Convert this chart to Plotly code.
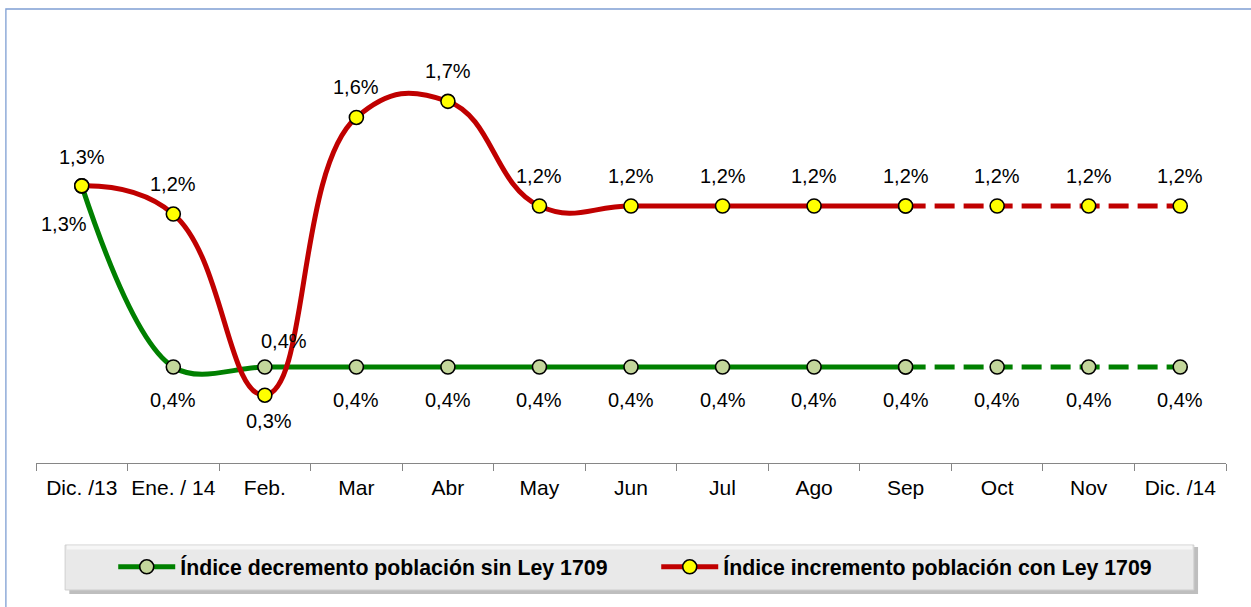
import plotly.graph_objects as go

# ---- data ----
categories = ["Dic. /13", "Ene. / 14", "Feb.", "Mar", "Abr", "May", "Jun",
              "Jul", "Ago", "Sep", "Oct", "Nov", "Dic. /14"]
sin_ley = [1.30, 0.40, 0.40, 0.40, 0.40, 0.40, 0.40, 0.40, 0.40, 0.40, 0.40, 0.40, 0.40]
con_ley = [1.30, 1.16, 0.26, 1.64, 1.72, 1.20, 1.20, 1.20, 1.20, 1.20, 1.20, 1.20, 1.20]
name_sin = "Índice decremento población sin Ley 1709"
name_con = "Índice incremento población con Ley 1709"
last_actual = 9  # Sep: after this point the series is projected (dashed)

# label offsets in pixels (xshift, yshift)
sin_label_pos = [(-18, -38), (0, -33), (19, 26)] + [(0, -33)] * 10
con_label_pos = [(0, 29), (0, 30), (4, -26)] + [(0, 30)] * 10

GREEN = "#008000"
RED = "#c00000"
FONT = "Liberation Sans, Arial, sans-serif"


def fmt(v):
    return f"{v:.1f}".replace(".", ",") + "%"


fig = go.Figure()

for vals, name, lc, mc, sm in [(sin_ley, name_sin, GREEN, "#c3d69b", 1.0),
                               (con_ley, name_con, RED, "#ffff00", 1.3)]:
    # actual (solid, smoothed) part
    fig.add_trace(go.Scatter(
        x=categories[:last_actual + 1], y=vals[:last_actual + 1], mode="lines+markers",
        name=name,
        line=dict(color=lc, width=5, shape="spline", smoothing=sm),
        marker=dict(size=14, color=mc, line=dict(color="#000000", width=1.6))))
    # projected (dashed) part
    fig.add_trace(go.Scatter(
        x=categories[last_actual:], y=vals[last_actual:], mode="lines+markers",
        line=dict(color=lc, width=5, dash="20px,9px"),
        marker=dict(size=14, color=mc, line=dict(color="#000000", width=1.6)),
        showlegend=False, hoverinfo="skip"))

annotations = []
for vals, pos in [(sin_ley, sin_label_pos), (con_ley, con_label_pos)]:
    for c, v, (dx, dy) in zip(categories, vals, pos):
        annotations.append(dict(
            x=c, y=v, xref="x", yref="y", text=fmt(v), showarrow=False,
            xshift=dx, yshift=dy, font=dict(family=FONT, size=20, color="#000000")))

shapes = [
    # outer light-blue border
    dict(type="rect", xref="paper", yref="paper", x0=-0.0253, x1=1.06, y0=-0.6, y1=1.0485,
         line=dict(color="#7f9fd3", width=1.3), fillcolor="rgba(0,0,0,0)", layer="below"),
    # legend shadow
    dict(type="rect", xref="paper", yref="paper", x0=0.0280, x1=0.9765, y0=-0.3025, y1=-0.1940,
         line=dict(width=0), fillcolor="rgba(110,110,110,0.45)", layer="below"),
    # legend box
    dict(type="rect", xref="paper", yref="paper", x0=0.02445, x1=0.9730, y0=-0.2933, y1=-0.1894,
         line=dict(color="#cfcfcf", width=1), fillcolor="#e9e9e9", layer="below"),
    # top highlight
    dict(type="rect", xref="paper", yref="paper", x0=0.0260, x1=0.9715, y0=-0.2000, y1=-0.1908,
         line=dict(width=0), fillcolor="#f6f6f6", layer="below"),
]

fig.update_layout(
    width=1251, height=607,
    margin=dict(l=36, r=25, t=30, b=144),
    paper_bgcolor="white", plot_bgcolor="white",
    font=dict(family=FONT, size=20, color="#000000"),
    xaxis=dict(type="category", categoryorder="array", categoryarray=categories,
               range=[-0.5, 12.5], showgrid=False, tickangle=0,
               showline=True, linecolor="#868686", linewidth=1.3,
               ticks="outside", tickson="boundaries", ticklen=7, tickcolor="#868686",
               tickfont=dict(family=FONT, size=21, color="#000000"),
               ticklabelstandoff=6, fixedrange=True),
    yaxis=dict(range=[-0.077, 2.0745], visible=False, fixedrange=True),
    legend=dict(orientation="h", x=0.0649, xanchor="left", y=-0.240, yanchor="middle",
                bgcolor="rgba(0,0,0,0)", font=dict(family=FONT, size=21.3, weight="bold"),
                itemwidth=57, entrywidth=471, traceorder="normal"),
    annotations=annotations,
    shapes=shapes,
    showlegend=True,
)

fig.write_html("out.html", config={"displayModeBar": False},
               post_script="document.body.style.margin='0';document.body.style.overflow='hidden';")
